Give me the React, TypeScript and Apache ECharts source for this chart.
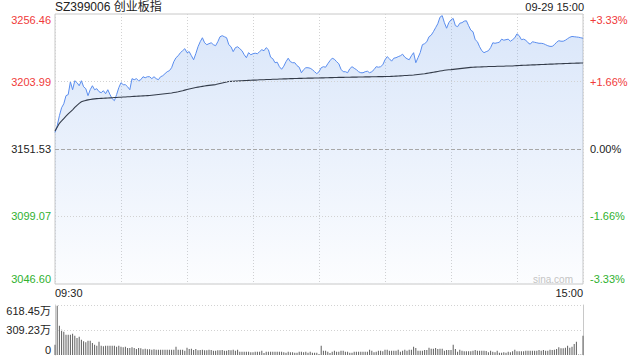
import React, { useEffect, useRef } from 'react';
import * as echarts from 'echarts';

const title = 'SZ399006 创业板指';
const dateTime = '09-29 15:00';
const watermark = 'sina.com';
const preClose = 3151.53;
const priceTicks = [3046.6, 3099.07, 3151.53, 3203.99, 3256.46];
const volumeTicks = [0, 309.23, 618.45];
const timeTicks = [0, 240];
const timeLabels = ['09:30', '15:00'];

const prices = [
  3164.4, 3169.6, 3177.4, 3183.6, 3186.7, 3193.0, 3193.8, 3203.8, 3197.6, 3204.6,
  3203.1, 3200.7, 3204.6, 3199.9, 3198.4, 3193.0, 3197.6, 3200.7, 3197.6, 3198.4,
  3196.1, 3195.3, 3196.8, 3194.5, 3197.6, 3193.8, 3190.6, 3189.1, 3193.8, 3199.2,
  3203.1, 3201.5, 3201.5, 3199.9, 3197.6, 3206.2, 3205.4, 3206.2, 3204.6, 3205.4,
  3207.7, 3206.9, 3207.7, 3207.7, 3206.2, 3207.7, 3206.2, 3205.4, 3207.7, 3208.5,
  3210.1, 3211.6, 3212.4, 3214.7, 3219.4, 3222.5, 3224.0, 3226.4, 3227.9, 3229.5,
  3226.4, 3227.2, 3224.0, 3220.9, 3225.6, 3231.0, 3234.9, 3238.0, 3234.1, 3232.6,
  3233.4, 3234.1, 3232.6, 3231.8, 3234.9, 3238.8, 3239.6, 3238.8, 3238.0, 3232.6,
  3231.0, 3227.2, 3230.3, 3231.0, 3229.5, 3227.9, 3224.8, 3222.5, 3226.4, 3224.8,
  3225.6, 3226.0, 3225.6, 3227.2, 3228.7, 3227.9, 3230.3, 3228.7, 3222.9, 3221.7,
  3218.6, 3219.0, 3215.5, 3213.5, 3215.9, 3219.4, 3222.1, 3219.4, 3218.6, 3218.6,
  3216.3, 3215.1, 3210.8, 3213.2, 3214.7, 3214.7, 3214.3, 3213.2, 3211.6, 3210.1,
  3211.6, 3214.7, 3215.5, 3215.1, 3217.8, 3220.2, 3222.1, 3221.3, 3219.4, 3217.8,
  3213.5, 3211.6, 3211.6, 3210.8, 3213.9, 3215.5, 3214.3, 3213.2, 3211.6, 3210.8,
  3210.8, 3211.6, 3212.0, 3210.8, 3211.6, 3213.2, 3215.5, 3215.1, 3215.5, 3217.0,
  3220.9, 3223.3, 3221.7, 3219.8, 3222.1, 3222.5, 3223.3, 3224.0, 3225.2, 3222.9,
  3221.7, 3220.9, 3224.0, 3226.4, 3218.6, 3222.5, 3226.4, 3232.6, 3233.4, 3234.9,
  3238.8, 3240.0, 3242.7, 3245.8, 3248.9, 3254.0, 3255.2, 3249.7, 3245.4, 3249.7,
  3252.0, 3253.0, 3247.4, 3246.6, 3249.3, 3249.7, 3250.9, 3251.2, 3247.4, 3243.9,
  3242.7, 3236.5, 3234.9, 3231.0, 3227.9, 3226.4, 3227.2, 3227.9, 3230.3, 3234.1,
  3233.7, 3234.1, 3234.5, 3236.9, 3236.1, 3236.5, 3236.9, 3235.3, 3236.5, 3238.0,
  3241.1, 3239.6, 3236.5, 3236.9, 3236.1, 3234.1, 3233.0, 3234.9, 3234.5, 3234.1,
  3233.7, 3233.7, 3233.4, 3232.6, 3231.8, 3231.3, 3231.3, 3232.6, 3234.5, 3235.7,
  3235.3, 3235.3, 3236.1, 3237.3, 3238.4, 3239.0, 3238.8, 3238.6, 3238.4, 3238.0,
  3237.6,
];

const averages = [
  3165.5, 3168.5, 3171.5, 3173.3, 3175.2, 3177.0, 3178.8, 3180.4, 3182.0, 3183.8,
  3185.5, 3187.0, 3188.2, 3188.8, 3189.3, 3189.7, 3190.0, 3190.3, 3190.5, 3190.7,
  3190.8, 3190.9, 3191.0, 3191.1, 3191.2, 3191.3, 3191.4, 3191.5, 3191.6, 3191.7,
  3191.8, 3191.9, 3192.0, 3192.1, 3192.2, 3192.3, 3192.4, 3192.5, 3192.6, 3192.7,
  3192.8, 3192.9, 3193.0, 3193.1, 3193.3, 3193.5, 3193.7, 3193.9, 3194.1, 3194.3,
  3194.5, 3194.7, 3194.9, 3195.1, 3195.4, 3195.7, 3196.0, 3196.4, 3196.8, 3197.3,
  3197.8, 3198.2, 3198.6, 3199.0, 3199.3, 3199.6, 3199.9, 3200.2, 3200.5, 3200.8,
  3201.0, 3201.2, 3201.4, 3201.6, 3202.0, 3202.4, 3202.8, 3203.2, 3203.6, 3204.0,
  3204.1, 3204.2, 3204.3, 3204.4, 3204.5, 3204.6, 3204.7, 3204.8, 3204.9, 3205.0,
  3205.1, 3205.1, 3205.2, 3205.3, 3205.4, 3205.4, 3205.5, 3205.6, 3205.6, 3205.7,
  3205.8, 3205.8, 3205.9, 3205.9, 3206.0, 3206.0, 3206.1, 3206.2, 3206.2, 3206.3,
  3206.3, 3206.4, 3206.4, 3206.5, 3206.5, 3206.6, 3206.6, 3206.6, 3206.7, 3206.7,
  3206.7, 3206.8, 3206.8, 3206.9, 3206.9, 3207.0, 3207.0, 3207.1, 3207.1, 3207.2,
  3207.2, 3207.2, 3207.3, 3207.3, 3207.3, 3207.4, 3207.4, 3207.4, 3207.5, 3207.5,
  3207.5, 3207.6, 3207.6, 3207.6, 3207.7, 3207.7, 3207.7, 3207.8, 3207.8, 3207.8,
  3207.9, 3207.9, 3207.9, 3208.0, 3208.1, 3208.2, 3208.3, 3208.4, 3208.5, 3208.6,
  3208.7, 3208.8, 3208.9, 3209.0, 3209.2, 3209.4, 3209.6, 3209.8, 3210.0, 3210.3,
  3210.6, 3210.9, 3211.2, 3211.5, 3211.8, 3212.1, 3212.4, 3212.7, 3212.9, 3213.1,
  3213.2, 3213.4, 3213.6, 3213.8, 3214.0, 3214.2, 3214.4, 3214.6, 3214.8, 3215.0,
  3215.1, 3215.2, 3215.3, 3215.3, 3215.4, 3215.5, 3215.5, 3215.6, 3215.6, 3215.7,
  3215.7, 3215.8, 3215.8, 3215.9, 3215.9, 3216.0, 3216.0, 3216.1, 3216.1, 3216.2,
  3216.3, 3216.4, 3216.5, 3216.6, 3216.6, 3216.7, 3216.8, 3216.9, 3216.9, 3217.0,
  3217.1, 3217.2, 3217.2, 3217.3, 3217.4, 3217.5, 3217.5, 3217.6, 3217.7, 3217.8,
  3217.8, 3217.9, 3218.0, 3218.0, 3218.1, 3218.2, 3218.2, 3218.3, 3218.3, 3218.4,
  3218.4,
];

const volumes = [
  128, 610, 363, 313, 289, 251, 251, 251, 264, 239,
  210, 227, 190, 169, 157, 177, 177, 148, 128, 115,
  165, 115, 107, 115, 115, 115, 115, 115, 103, 115,
  103, 95, 103, 87, 87, 95, 87, 74, 87, 82,
  70, 78, 70, 70, 66, 70, 66, 66, 66, 66,
  66, 66, 66, 66, 66, 103, 66, 66, 66, 54,
  91, 74, 78, 62, 74, 58, 62, 66, 58, 58,
  66, 62, 54, 54, 58, 58, 62, 54, 54, 62,
  58, 66, 54, 66, 41, 41, 41, 41, 41, 33,
  33, 41, 41, 41, 54, 25, 41, 41, 41, 41,
  41, 41, 41, 41, 33, 29, 41, 33, 33, 29,
  29, 41, 41, 33, 41, 29, 41, 29, 29, 29,
  12, 115, 54, 54, 41, 25, 41, 54, 41, 41,
  54, 54, 41, 41, 29, 29, 41, 41, 41, 41,
  41, 41, 41, 66, 54, 33, 41, 54, 54, 45,
  66, 66, 54, 54, 54, 54, 66, 41, 54, 66,
  54, 66, 66, 103, 87, 54, 54, 54, 62, 62,
  91, 78, 78, 87, 74, 78, 78, 54, 62, 62,
  62, 128, 74, 41, 66, 54, 45, 45, 45, 45,
  54, 62, 54, 54, 54, 54, 50, 33, 54, 41,
  33, 54, 29, 29, 33, 29, 41, 33, 45, 66,
  45, 45, 45, 45, 54, 54, 54, 54, 54, 54,
  62, 54, 62, 54, 54, 66, 62, 66, 74, 95,
  82, 82, 91, 115, 91, 103, 136, 165, 5, 5,
  239,
];

const FONT = '"Liberation Sans", Arial, "Noto Sans CJK SC", sans-serif';
const RED = '#f03a3a';
const GREEN = '#2fb12f';
const TEXT = '#222';
const GRID_LINE = '#d2d2d2';
const BORDER = '#c8c8c8';

const priceColor = (v: number) =>
  v > preClose + 0.001 ? RED : v < preClose - 0.001 ? GREEN : TEXT;

export default function App() {
  const ref = useRef<HTMLDivElement>(null);

  useEffect(() => {
    const chart = echarts.init(ref.current!, null, { renderer: 'svg' });

    const option: any = {
      animation: false,
      backgroundColor: '#fff',
      title: {
        text: title,
        left: 55,
        top: 1,
        padding: 0,
        textStyle: { fontSize: 12, fontWeight: 'normal', color: TEXT, fontFamily: FONT },
      },
      graphic: [
        {
          type: 'text',
          x: 584,
          y: 7,
          style: {
            text: dateTime,
            align: 'right',
            verticalAlign: 'middle',
            fontSize: 11,
            fill: TEXT,
            fontFamily: FONT,
          },
        },
        {
          type: 'text',
          x: 573,
          y: 279,
          z: 10,
          style: {
            text: watermark,
            align: 'right',
            verticalAlign: 'middle',
            fontSize: 10,
            fill: '#c4c4c4',
            fontFamily: FONT,
          },
        },
      ],
      grid: [
        {
          left: 55,
          top: 14,
          width: 528,
          height: 270,
          show: true,
          borderColor: BORDER,
          borderWidth: 1,
          backgroundColor: 'transparent',
        },
        { left: 55, top: 305, width: 528, height: 50 },
      ],
      xAxis: [
        {
          gridIndex: 0,
          type: 'value',
          min: 0,
          max: 240,
          interval: 30,
          axisLine: { show: false },
          axisTick: { show: false },
          splitLine: { show: true, lineStyle: { color: GRID_LINE, type: [1, 2], width: 1 } },
          axisLabel: {
            customValues: timeTicks,
            formatter: (v: number) => timeLabels[timeTicks.indexOf(v)] ?? '',
            alignMinLabel: 'left',
            alignMaxLabel: 'right',
            margin: 3,
            fontSize: 11,
            color: TEXT,
            fontFamily: FONT,
          },
        },
        {
          gridIndex: 1,
          type: 'value',
          min: 0,
          max: 240,
          axisLine: { show: false },
          axisTick: { show: false },
          axisLabel: { show: false },
          splitLine: { show: false },
        },
      ],
      yAxis: [
        {
          gridIndex: 0,
          type: 'value',
          position: 'left',
          min: priceTicks[0],
          max: priceTicks[priceTicks.length - 1],
          axisLine: { show: false },
          axisTick: { show: false, customValues: priceTicks },
          splitLine: { show: false },
          axisLabel: {
            customValues: priceTicks,
            formatter: (v: number) => v.toFixed(2),
            color: (v: any) => priceColor(Number(v)),
            verticalAlignMinLabel: 'bottom',
            verticalAlignMaxLabel: 'top',
            margin: 4,
            fontSize: 11,
            fontFamily: FONT,
          },
        },
        {
          gridIndex: 0,
          type: 'value',
          position: 'right',
          min: priceTicks[0],
          max: priceTicks[priceTicks.length - 1],
          axisLine: { show: false },
          axisTick: { show: false, customValues: priceTicks },
          splitLine: { show: false },
          axisLabel: {
            customValues: priceTicks,
            formatter: (v: number) => {
              const p = ((v - preClose) / preClose) * 100;
              return (p > 0.001 ? '+' : '') + p.toFixed(2) + '%';
            },
            color: (v: any) => priceColor(Number(v)),
            verticalAlignMinLabel: 'bottom',
            verticalAlignMaxLabel: 'top',
            margin: 7,
            fontSize: 11,
            fontFamily: FONT,
          },
        },
        {
          gridIndex: 1,
          type: 'value',
          position: 'left',
          min: volumeTicks[0],
          max: volumeTicks[volumeTicks.length - 1],
          axisLine: { show: true, lineStyle: { color: BORDER, width: 1 } },
          axisTick: { show: false, customValues: volumeTicks },
          splitLine: { show: false },
          axisLabel: {
            customValues: volumeTicks,
            formatter: (v: number) => (v === 0 ? '0' : v.toFixed(2) + '万'),
            verticalAlignMinLabel: 'bottom',
            verticalAlignMaxLabel: 'top',
            margin: 4,
            fontSize: 11,
            color: TEXT,
            fontFamily: FONT,
          },
        },
        {
          gridIndex: 1,
          type: 'value',
          position: 'right',
          min: volumeTicks[0],
          max: volumeTicks[volumeTicks.length - 1],
          axisLine: { show: true, lineStyle: { color: BORDER, width: 1 } },
          axisTick: { show: false },
          axisLabel: { show: false },
          splitLine: { show: false },
        },
      ],
      series: [
        {
          type: 'line',
          xAxisIndex: 0,
          yAxisIndex: 0,
          data: prices.map((v, i) => [i, v]),
          symbol: 'none',
          lineStyle: { color: '#5a8dee', width: 1 },
          areaStyle: {
            origin: 'start',
            color: new echarts.graphic.LinearGradient(0, 0, 0, 1, [
              { offset: 0, color: 'rgba(120,165,235,0.40)' },
              { offset: 0.5, color: 'rgba(120,165,235,0.22)' },
              { offset: 1, color: 'rgba(120,165,235,0.03)' },
            ]),
          },
          markLine: {
            silent: true,
            symbol: ['none', 'none'],
            label: { show: false },
            emphasis: { disabled: true },
            data: priceTicks.slice(1, -1).map((v) => ({
              yAxis: v,
              lineStyle: {
                color: Math.abs(v - preClose) < 0.001 ? '#a8a8a8' : GRID_LINE,
                type: Math.abs(v - preClose) < 0.001 ? [4, 2] : [1, 2],
                width: 1,
              },
            })),
          },
        },
        {
          type: 'line',
          xAxisIndex: 0,
          yAxisIndex: 0,
          data: averages.map((v, i) => [i, v]),
          symbol: 'none',
          lineStyle: { color: '#343c4a', width: 1.1 },
        },
        {
          type: 'bar',
          xAxisIndex: 1,
          yAxisIndex: 2,
          data: volumes.map((v, i) => [i, v]),
          barWidth: 1,
          itemStyle: { color: '#5e5e5e' },
          markLine: {
            silent: true,
            symbol: ['none', 'none'],
            label: { show: false },
            emphasis: { disabled: true },
            data: volumeTicks.slice(1).map((v) => ({
              yAxis: v,
              lineStyle: { color: GRID_LINE, type: [1, 2], width: 1 },
            })),
          },
        },
      ],
    };

    chart.setOption(option);
    return () => chart.dispose();
  }, []);

  return (
    <div
      ref={ref}
      style={{ position: 'fixed', left: 0, top: 0, width: 640, height: 360 }}
    />
  );
}
